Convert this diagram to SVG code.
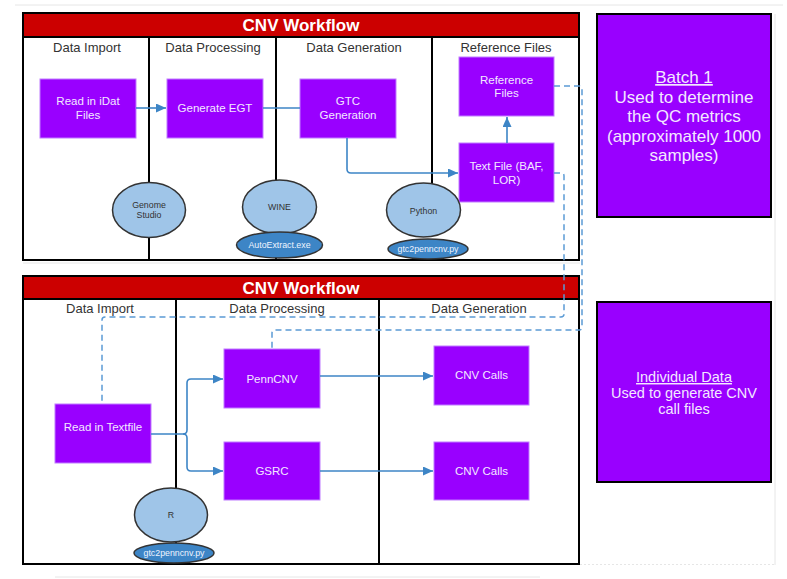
<svg xmlns="http://www.w3.org/2000/svg" width="787" height="579" viewBox="0 0 787 579">
<style>
  .frame{fill:#ffffff;stroke:#000;stroke-width:2}
  .hdr{fill:#cc0000;stroke:#000;stroke-width:2}
  .div{stroke:#000;stroke-width:2;fill:none}
  .title{font-family:"Liberation Sans",Arial,sans-serif;font-size:17px;font-weight:bold;fill:#ffffff;text-anchor:middle}
  .lane{font-family:"Liberation Sans",Arial,sans-serif;font-size:13px;fill:#333333;text-anchor:middle}
  .box{fill:#9900ff;stroke:#c07dff;stroke-width:1}
  .bt{font-family:"Liberation Sans",Arial,sans-serif;font-size:11.5px;fill:#f3e8ff;text-anchor:middle}
  .tool{fill:#9fc5e8;stroke:#333333;stroke-width:1.5}
  .tt{font-family:"Liberation Sans",Arial,sans-serif;font-size:8.8px;fill:#333333;text-anchor:middle}
  .sub{fill:#3d85c6;stroke:#333333;stroke-width:1.5}
  .st{font-family:"Liberation Sans",Arial,sans-serif;font-size:8.8px;fill:#eef4ff;text-anchor:middle}
  .panel{fill:#9900ff;stroke:#000;stroke-width:2}
  .pt{font-family:"Liberation Sans",Arial,sans-serif;fill:#f3e8ff;text-anchor:middle}
  .arr{fill:none;stroke:#3d85c6;stroke-width:1.6}
  .dash{fill:none;stroke:#5b9bd5;stroke-width:1.5;stroke-dasharray:6 4}
  .faint{stroke:#e6e6e6;stroke-width:1;fill:none}
</style>
<defs>
  <marker id="ah" markerUnits="userSpaceOnUse" markerWidth="11" markerHeight="9" refX="10" refY="4.5" orient="auto">
    <path d="M0,0 L10,4.5 L0,9 z" fill="#3d85c6"/>
  </marker>
</defs>
<rect width="787" height="579" fill="#ffffff"/>
<g id="page-edges">
  <line class="faint" x1="15" y1="5" x2="783" y2="5"/>
  <line class="faint" x1="775" y1="14" x2="775" y2="565"/>
  <line class="faint" x1="580" y1="564.5" x2="775" y2="564.5" stroke-dasharray="2 2"/>
  <line class="faint" x1="23" y1="263" x2="580" y2="263"/>
  <line class="faint" x1="55" y1="577" x2="540" y2="577"/>
</g>

<g id="workflow-batch">
  <rect class="frame" x="23" y="13" width="556" height="247"/>
  <rect class="hdr" x="23" y="13" width="556" height="24"/>
  <text class="title" x="301" y="31">CNV Workflow</text>
  <line class="div" x1="149" y1="37" x2="149" y2="260"/>
  <line class="div" x1="276" y1="37" x2="276" y2="260"/>
  <line class="div" x1="432" y1="37" x2="432" y2="200"/>
  <text class="lane" x="87" y="52">Data Import</text>
  <text class="lane" x="213" y="52">Data Processing</text>
  <text class="lane" x="354" y="52">Data Generation</text>
  <text class="lane" x="506" y="52">Reference Files</text>
</g>

<g id="workflow-individual">
  <rect class="frame" x="23" y="276" width="556" height="288"/>
  <rect class="hdr" x="23" y="276" width="556" height="23"/>
  <text class="title" x="301" y="293.5">CNV Workflow</text>
  <line class="div" x1="176" y1="299" x2="176" y2="564"/>
  <line class="div" x1="379" y1="299" x2="379" y2="564"/>
  <text class="lane" x="100" y="313">Data Import</text>
  <text class="lane" x="277" y="313">Data Processing</text>
  <text class="lane" x="479" y="313">Data Generation</text>
</g>

<g id="node-read-idat">
  <rect class="box" x="40" y="79" width="96" height="59"/>
  <text class="bt" x="88" y="105">Read in iDat</text>
  <text class="bt" x="88" y="119">Files</text>
</g>
<g id="node-generate-egt">
  <rect class="box" x="167" y="79" width="96" height="59"/>
  <text class="bt" x="215" y="112">Generate EGT</text>
</g>
<g id="node-gtc">
  <rect class="box" x="300" y="79" width="96" height="59"/>
  <text class="bt" x="348" y="105">GTC</text>
  <text class="bt" x="348" y="119">Generation</text>
</g>
<g id="node-reference-files">
  <rect class="box" x="459" y="57" width="95" height="59"/>
  <text class="bt" x="506.5" y="83.5">Reference</text>
  <text class="bt" x="506.5" y="97">Files</text>
</g>
<g id="node-text-file">
  <rect class="box" x="459" y="143" width="95" height="59"/>
  <text class="bt" x="506.5" y="170">Text File (BAF,</text>
  <text class="bt" x="506.5" y="183.5">LOR)</text>
</g>

<g id="tool-genome-studio">
  <ellipse class="tool" cx="149" cy="210" rx="36.5" ry="27.5"/>
  <text class="tt" x="149" y="208">Genome</text>
  <text class="tt" x="149" y="218">Studio</text>
</g>
<g id="tool-wine">
  <ellipse class="tool" cx="279.5" cy="207" rx="37" ry="27"/>
  <text class="tt" x="279.5" y="210">WINE</text>
  <ellipse class="sub" cx="279.5" cy="245" rx="43" ry="13"/>
  <text class="st" x="279.5" y="248">AutoExtract.exe</text>
</g>
<g id="tool-python">
  <ellipse class="tool" cx="423.5" cy="210" rx="37" ry="27"/>
  <text class="tt" x="423.5" y="213.5">Python</text>
  <ellipse class="sub" cx="428" cy="249" rx="40" ry="10"/>
  <text class="st" x="428" y="252">gtc2penncnv.py</text>
</g>

<g id="node-read-textfile">
  <rect class="box" x="55" y="404" width="96" height="59"/>
  <text class="bt" x="103" y="431">Read in Textfile</text>
</g>
<g id="node-penncnv">
  <rect class="box" x="224" y="349" width="96" height="59"/>
  <text class="bt" x="272" y="382.5">PennCNV</text>
</g>
<g id="node-gsrc">
  <rect class="box" x="224" y="442" width="96" height="58"/>
  <text class="bt" x="272" y="475">GSRC</text>
</g>
<g id="node-cnv-calls-1">
  <rect class="box" x="434" y="346" width="95" height="59"/>
  <text class="bt" x="481.5" y="379">CNV Calls</text>
</g>
<g id="node-cnv-calls-2">
  <rect class="box" x="434" y="442" width="95" height="58"/>
  <text class="bt" x="481.5" y="475">CNV Calls</text>
</g>
<g id="tool-r">
  <ellipse class="tool" cx="171" cy="515" rx="36.5" ry="27"/>
  <text class="tt" x="171" y="518">R</text>
  <ellipse class="sub" cx="174" cy="553" rx="40" ry="10"/>
  <text class="st" x="174" y="556">gtc2penncnv.py</text>
</g>

<g id="panel-batch">
  <rect class="panel" x="597" y="14" width="174" height="203"/>
  <text class="pt" x="684" y="83" font-size="17" text-decoration="underline">Batch 1</text>
  <text class="pt" x="684" y="102.5" font-size="17">Used to determine</text>
  <text class="pt" x="684" y="122" font-size="17">the QC metrics</text>
  <text class="pt" x="684" y="141.5" font-size="17">(approximately 1000</text>
  <text class="pt" x="684" y="161" font-size="17">samples)</text>
</g>
<g id="panel-individual">
  <rect class="panel" x="597" y="302" width="174" height="180"/>
  <text class="pt" x="684" y="382" font-size="14.5" text-decoration="underline">Individual Data</text>
  <text class="pt" x="684" y="398" font-size="14.5">Used to generate CNV</text>
  <text class="pt" x="684" y="413.5" font-size="14.5">call files</text>
</g>

<g id="connectors">
  <path class="arr" d="M136,108 H166" marker-end="url(#ah)"/>
  <path class="arr" d="M263,108 H300"/>
  <path class="arr" d="M347,138 V169 Q347,173 351,173 H458" marker-end="url(#ah)"/>
  <path class="arr" d="M507,143 V117" marker-end="url(#ah)"/>
  <path class="arr" d="M151,434 H183 Q187,434 187,430 V383 Q187,379 191,379 H223" marker-end="url(#ah)"/>
  <path class="arr" d="M183,434 Q187,434 187,438 V467 Q187,471 191,471 H223" marker-end="url(#ah)"/>
  <path class="arr" d="M320,376 H433" marker-end="url(#ah)"/>
  <path class="arr" d="M320,471 H433" marker-end="url(#ah)"/>
  <path class="dash" d="M554,86 H579 Q582,86 582,89 V327 Q582,330 579,330 H275 Q272,330 272,333 V349"/>
  <path class="dash" d="M554,173 H561 Q564,173 564,176 V314 Q564,317 561,317 H105 Q102,317 102,320 V404"/>
</g>
</svg>
